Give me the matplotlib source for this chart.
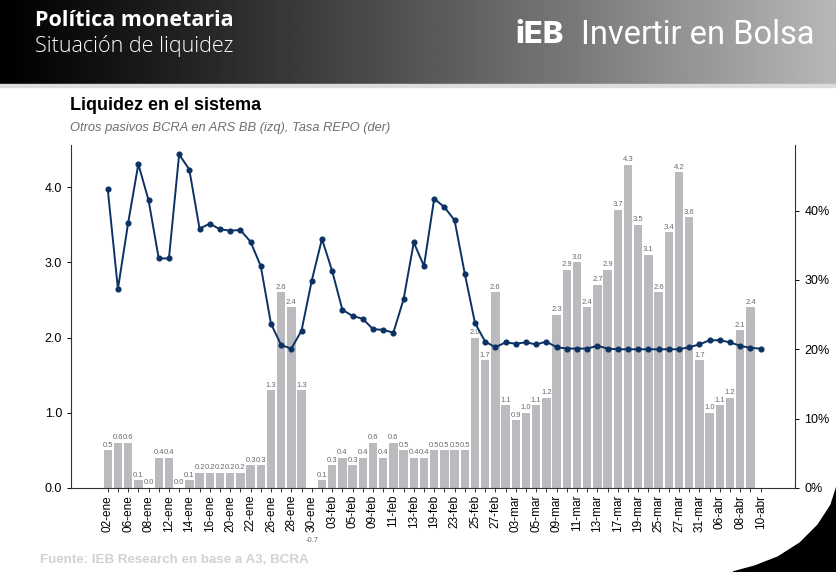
import numpy as np
import matplotlib
matplotlib.use("Agg")
import matplotlib.pyplot as plt
from matplotlib.patches import Rectangle, Polygon

# Otros pasivos BCRA en ARS, miles de millones (izq)
pasivos = [0.5, 0.6, 0.6, 0.1, 0.0, 0.4, 0.4, 0.0, 0.1, 0.2,
           0.2, 0.2, 0.2, 0.2, 0.3, 0.3, 1.3, 2.6, 2.4, 1.3,
           -0.7, 0.1, 0.3, 0.4, 0.3, 0.4, 0.6, 0.4, 0.6, 0.5,
           0.4, 0.4, 0.5, 0.5, 0.5, 0.5, 2.0, 1.7, 2.6, 1.1,
           0.9, 1.0, 1.1, 1.2, 2.3, 2.9, 3.0, 2.4, 2.7, 2.9,
           3.7, 4.3, 3.5, 3.1, 2.6, 3.4, 4.2, 3.6, 1.7, 1.0,
           1.1, 1.2, 2.1, 2.4, np.nan]

# Tasa REPO, % (der)
repo = [43.1, 28.7, 38.2, 46.7, 41.5, 33.1, 33.1, 48.1, 45.9, 37.4,
        38.1, 37.3, 37.1, 37.2, 35.5, 32.0, 23.7, 20.6, 20.1, 22.7,
        29.9, 35.9, 31.3, 25.7, 24.8, 24.4, 22.9, 22.8, 22.4, 27.2,
        35.4, 32.0, 41.7, 40.5, 38.6, 30.9, 23.8, 21.1, 20.3, 21.0,
        20.8, 21.0, 20.7, 21.1, 20.3, 20.1, 20.1, 20.1, 20.5, 20.1,
        20.0, 20.0, 20.0, 20.0, 20.0, 20.0, 20.0, 20.3, 20.7, 21.3,
        21.3, 21.0, 20.5, 20.2, 20.1]

# one label every two sessions
tick_labels = ["02-ene", "06-ene", "08-ene", "12-ene", "14-ene", "16-ene",
               "20-ene", "22-ene", "26-ene", "28-ene", "30-ene", "03-feb",
               "05-feb", "09-feb", "11-feb", "13-feb", "19-feb", "23-feb",
               "25-feb", "27-feb", "03-mar", "05-mar", "09-mar", "11-mar",
               "13-mar", "17-mar", "19-mar", "25-mar", "27-mar", "31-mar",
               "06-abr", "08-abr", "10-abr"]

W, H = 837, 572
fig = plt.figure(figsize=(W / 100, H / 100), dpi=100)
fig.patch.set_facecolor("white")

# header band with gradient
hdr = fig.add_axes([0, 1 - 84 / H, 1, 84 / H])
grad = (np.linspace(0, 1, 400) ** 1.1) * 0.72
hdr.imshow(np.tile(grad, (10, 1)), cmap="gray", vmin=0, vmax=1, aspect="auto",
           extent=[0, 1, 0, 1])
hdr.axis("off")
fig.patches.append(Rectangle((0, 1 - 87 / H), 1, 3 / H, transform=fig.transFigure,
                             color="#dcdcdc", zorder=0))

fig.text(35 / W, 1 - 21 / H, "Política monetaria", color="white", fontsize=15.5,
         fontweight="bold", family="Open Sans", va="center")
fig.text(35 / W, 1 - 46 / H, "Situación de liquidez", color="white", fontsize=15.5,
         family="Open Sans", fontweight="light", va="center")
fig.text(515 / W, 1 - 35 / H, "iEB", color="white", fontsize=22.5, fontweight="heavy",
         family="Inter", va="center")
fig.text(581 / W, 1 - 35 / H, "Invertir en Bolsa", color="white", fontsize=23.5,
         family="Roboto", va="center")

fig.text(70 / W, 1 - 106 / H, "Liquidez en el sistema", fontsize=13,
         fontweight="bold", family="Liberation Sans", va="center")
fig.text(70 / W, 1 - 128 / H, "Otros pasivos BCRA en ARS BB (izq), Tasa REPO (der)",
         fontsize=9.3, style="italic", color="#6e6e6e", family="Liberation Sans",
         va="center")
fig.text(40 / W, 1 - 560 / H, "Fuente: IEB Research en base a A3, BCRA", fontsize=9.6,
         fontweight="bold", color="#d2d2d2", family="Liberation Sans", va="center")

# black corner shape bottom right
corner = [(837, 486), (831, 505), (818, 525), (800, 543), (778, 557), (755, 566),
          (733, 572), (837, 572)]
fig.patches.append(Polygon([(px / W, 1 - py / H) for px, py in corner], closed=True,
                           transform=fig.transFigure, color="black", zorder=0))

ax = fig.add_axes([71 / W, 1 - 488 / H, (795.3 - 71) / W, (488 - 145) / H])
x = np.arange(len(pasivos))
vals = np.array(pasivos)
ax.bar(x, vals, width=0.82, color="#bbbabe", zorder=1)
for xi, v in zip(x, vals):
    if np.isnan(v):
        continue
    if v >= 0:
        ax.text(xi, v + 0.02, f"{v:.1f}", ha="center", va="bottom", fontsize=5.5,
                color="#6a6a6a", family="Liberation Sans")
    else:
        ax.text(xi, v, f"{v:.1f}", ha="center", va="center", fontsize=5.5,
                color="#6a6a6a", family="Liberation Sans", clip_on=False)

ax.set_xlim(-3.6, 67.4)
ax.set_ylim(0, 4.56)
ax.set_yticks([0, 1, 2, 3, 4])
ax.set_yticklabels([f"{t:.1f}" for t in [0, 1, 2, 3, 4]])
ax.set_xticks(x[::2])
ax.set_xticklabels(tick_labels, rotation=90)
ax.set_xticks(x[1::2], minor=True)
ax.tick_params(axis="x", which="both", length=3, width=0.7, color="#333333",
               labelsize=8.5, pad=2)
ax.tick_params(axis="y", length=3, width=0.7, labelsize=9)
for lab in ax.get_xticklabels() + ax.get_yticklabels():
    lab.set_family("Liberation Sans")
for s in ["top", "right"]:
    ax.spines[s].set_visible(False)
for s in ["left", "bottom"]:
    ax.spines[s].set_color("#333333")
    ax.spines[s].set_linewidth(0.8)

ax2 = ax.twinx()
ax2.plot(x, np.array(repo) / 100, color="#0c3264", lw=1.4, marker="o", ms=3.4,
         zorder=3)
ax2.set_ylim(0, 0.4945)
ax2.set_yticks([0, 0.1, 0.2, 0.3, 0.4])
ax2.set_yticklabels(["0%", "10%", "20%", "30%", "40%"])
ax2.tick_params(axis="y", length=3, width=0.7, labelsize=9)
for lab in ax2.get_yticklabels():
    lab.set_family("Liberation Sans")
for s in ["top", "left", "bottom"]:
    ax2.spines[s].set_visible(False)
ax2.spines["right"].set_color("#333333")
ax2.spines["right"].set_linewidth(0.8)

fig.savefig("out.png", dpi=100)
